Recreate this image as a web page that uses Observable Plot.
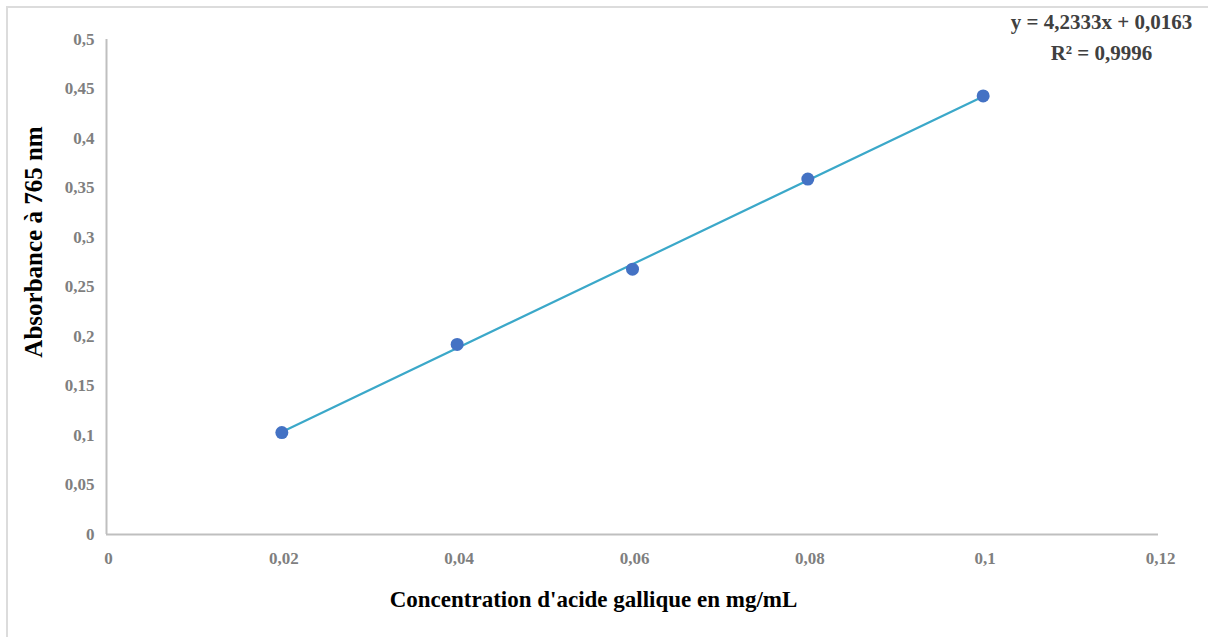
<!DOCTYPE html>
<html>
<head>
<meta charset="utf-8">
<script src="https://cdn.jsdelivr.net/npm/d3@7"></script>
<script src="https://cdn.jsdelivr.net/npm/@observablehq/plot@0.6"></script>
<style>
  html, body { margin: 0; padding: 0; background: #fff; }
  #wrap { position: relative; width: 1208px; height: 637px; overflow: hidden; }
  #border { position: absolute; left: 6px; top: 6px; width: 1210px; height: 660px; border: 2px solid #dcdcdc; box-sizing: border-box; pointer-events: none; }
</style>
</head>
<body>
<div id="wrap"><div id="border"></div></div>
<script>
const concentration = [0.02, 0.04, 0.06, 0.08, 0.1];
const absorbance = [0.103, 0.192, 0.268, 0.359, 0.443];
const xTicks = [0, 0.02, 0.04, 0.06, 0.08, 0.1, 0.12];
const yTicks = [0, 0.05, 0.1, 0.15, 0.2, 0.25, 0.3, 0.35, 0.4, 0.45, 0.5];
const xTitle = "Concentration d'acide gallique en mg/mL";
const yTitle = "Absorbance à 765 nm";
const equation = ["y = 4,2333x + 0,0163", "R² = 0,9996"];

const data = concentration.map((c, i) => ({x: c, y: absorbance[i]}));
const fmt = d => String(d).replace(".", ",");
const serif = "'Liberation Serif', 'DejaVu Serif', serif";

const chart = Plot.plot({
  width: 1208,
  height: 637,
  marginLeft: 106,
  marginRight: 50,
  marginTop: 39,
  marginBottom: 103,
  style: {fontFamily: serif, background: "transparent", overflow: "visible"},
  x: {domain: [0, 0.12]},
  y: {domain: [0, 0.5]},
  marks: [
    Plot.ruleY([0], {stroke: "#bfbfbf", strokeWidth: 2}),
    Plot.ruleX([0], {stroke: "#bfbfbf", strokeWidth: 2}),
    Plot.axisX({ticks: xTicks, tickFormat: fmt, tickSize: 0, tickPadding: 17, fontSize: 17, fontWeight: "bold", fill: "#7f7f7f", label: null, letterSpacing: "0.5px", dx: 2}),
    Plot.axisY({ticks: yTicks, tickFormat: fmt, tickSize: 0, tickPadding: 12, fontSize: 17, fontWeight: "bold", fill: "#7f7f7f", label: null, letterSpacing: "0.5px"}),
    Plot.linearRegressionY(data, {x: "x", y: "y", ci: 0, stroke: "#3ba8c9", strokeWidth: 2.2}),
    Plot.dot(data, {x: "x", y: "y", r: 6.5, fill: "#4472c4", stroke: "none"}),
    Plot.text([xTitle], {frameAnchor: "bottom", textAnchor: "middle", dx: -39, dy: 72, fontSize: 23, fontWeight: "bold", fill: "#000", text: d => d}),
    Plot.text([yTitle], {frameAnchor: "left", textAnchor: "middle", rotate: -90, dx: -73, dy: -45, fontSize: 25, fontWeight: "bold", fill: "#000", text: d => d}),
    Plot.text([equation[0]], {frameAnchor: "top-right", textAnchor: "middle", dx: -57, dy: -25, fontSize: 21, fontWeight: "bold", fill: "#404040", text: d => d}),
    Plot.text([equation[1]], {frameAnchor: "top-right", textAnchor: "middle", dx: -57, dy: 6, fontSize: 21, fontWeight: "bold", fill: "#404040", text: d => d})
  ]
});
document.getElementById("wrap").prepend(chart);
</script>
</body>
</html>
